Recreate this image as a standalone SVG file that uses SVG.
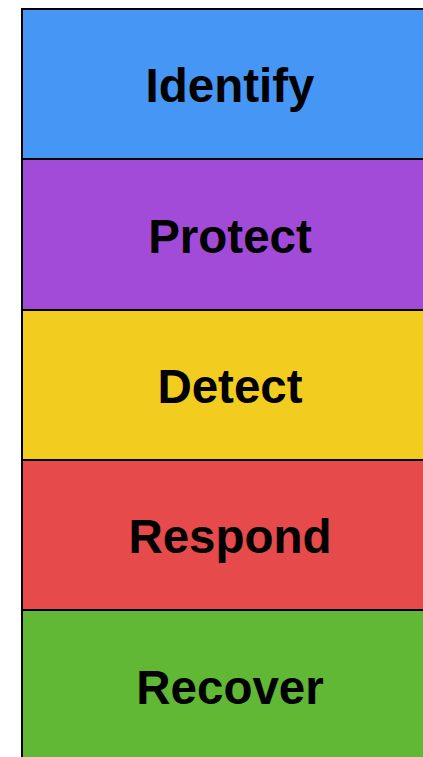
<svg xmlns="http://www.w3.org/2000/svg" width="423" height="757" viewBox="0 0 423 757">
  <style>
    .band { stroke: #000; stroke-width: 2; }
    .label { font-family: "Liberation Sans", Arial, sans-serif; font-weight: bold; font-size: 47.5px; fill: #000; text-anchor: middle; }
  </style>
  <rect width="423" height="757" fill="#fff"/>
  <g id="identify">
    <rect class="band" x="22" y="9" width="420" height="150" fill="#4596F5"/>
    <text class="label" x="230" y="102">Identify</text>
  </g>
  <g id="protect">
    <rect class="band" x="22" y="159" width="420" height="151" fill="#A24BD8"/>
    <text class="label" x="230" y="253">Protect</text>
  </g>
  <g id="detect">
    <rect class="band" x="22" y="310" width="420" height="150" fill="#F2CC1F"/>
    <text class="label" x="230" y="403">Detect</text>
  </g>
  <g id="respond">
    <rect class="band" x="22" y="460" width="420" height="150" fill="#E64A4A"/>
    <text class="label" x="230" y="553">Respond</text>
  </g>
  <g id="recover">
    <rect class="band" x="22" y="610" width="420" height="160" fill="#60B834"/>
    <text class="label" x="230" y="704">Recover</text>
  </g>
  <g id="connectors"/>
</svg>
